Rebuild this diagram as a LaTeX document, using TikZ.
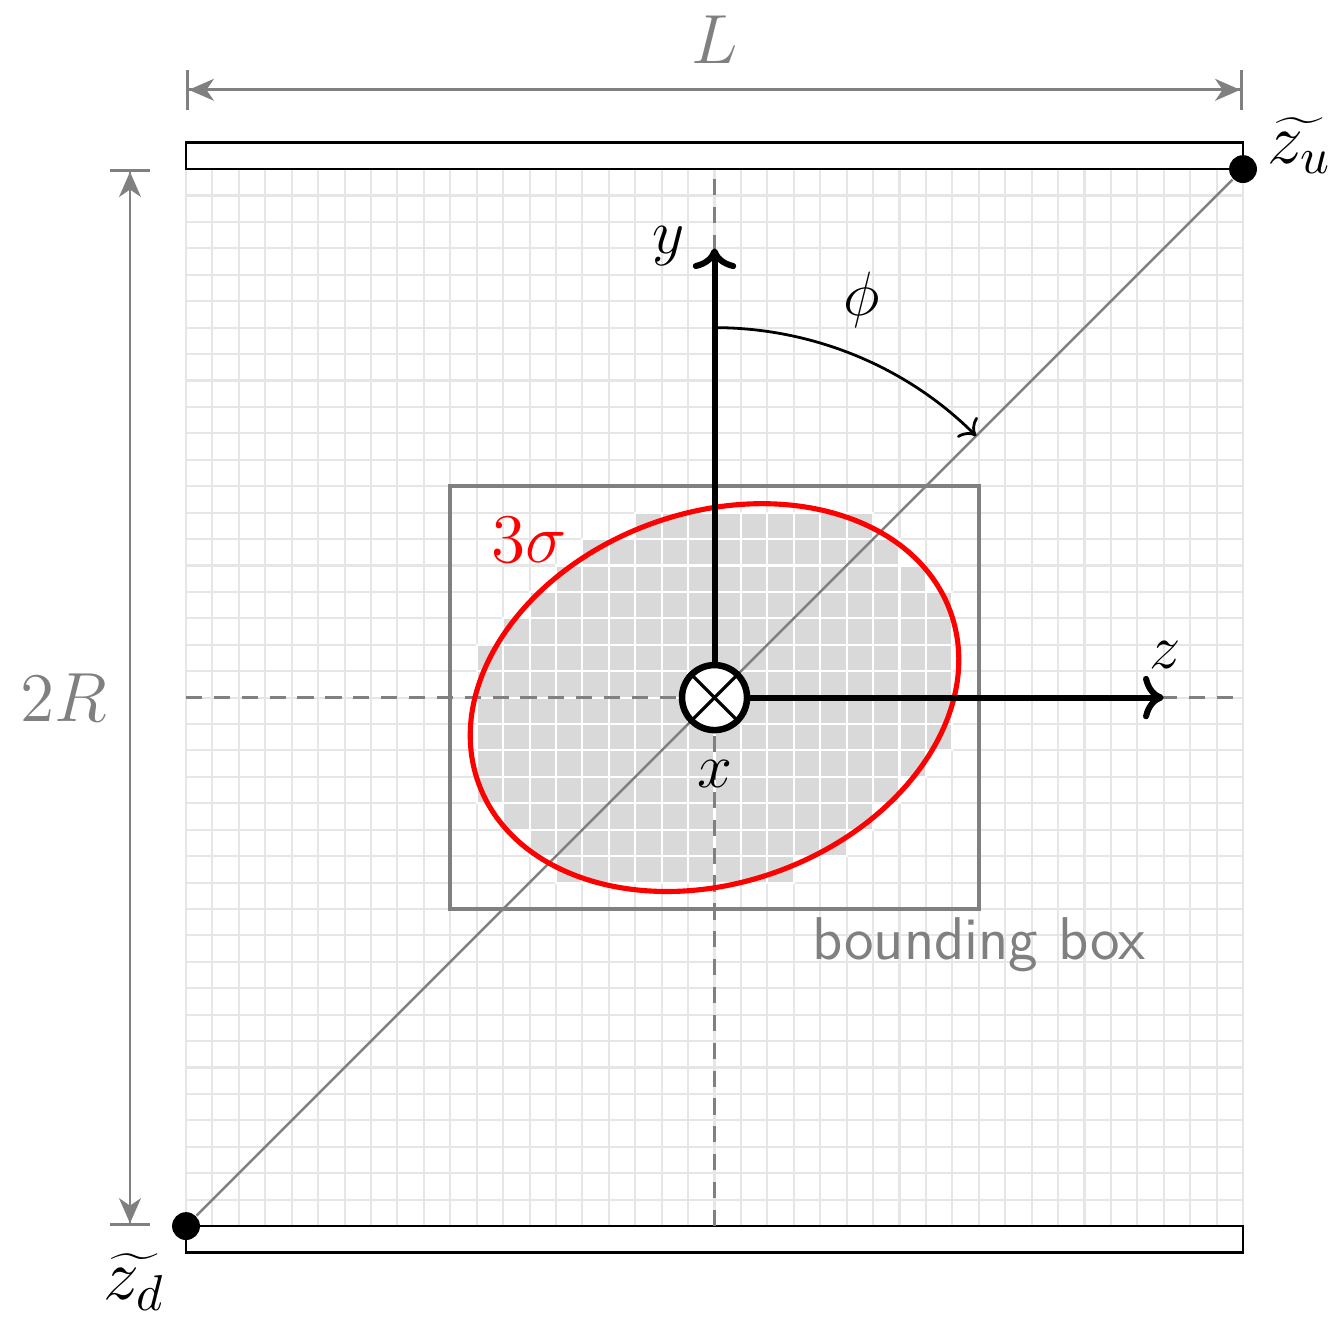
\documentclass[tikz,border=0pt]{standalone}
\usepackage{fix-cm}
\usetikzlibrary{positioning, arrows.meta, calc}
\definecolor{gridline}{HTML}{E6E6E6}
\definecolor{cellfill}{HTML}{D9D9D9}
\definecolor{dimgray}{HTML}{808080}

\begin{document}
\begin{tikzpicture}[
  x=0.2cm, y=0.2cm,
  every node/.style={inner sep=0pt},
  bigmath/.style={font=\fontsize{15}{18}\selectfont},
  midmath/.style={font=\fontsize{13.5}{16}\selectfont},
  plate/.style={draw=black, line width=0.6pt, fill=white},
  cell/.style={fill=cellfill, draw=white, line width=0.45pt},
  guide/.style={draw=dimgray, line width=0.5pt, dash pattern=on 3.5pt off 2.5pt},
  dimline/.style={
    draw=dimgray, line width=0.6pt,
    {Bar[width=8.6pt]Stealth[length=5.4pt, width=4.7pt, inset=1.6pt]}-{Stealth[length=5.4pt, width=4.7pt, inset=1.6pt]Bar[width=8.6pt]}
  },
  axisline/.style={line width=1.3pt, -{To}},
  dot/.style={circle, fill=black, minimum size=6pt},
  bbox/.style={draw=dimgray, line width=0.9pt}
]
\useasboundingbox (-7.04,-3.56) rectangle (43.52,46.40);

% Grid and cells inside the ellipse
\draw[gridline, line width=0.45pt, step=1] (0,0) grid (40,40);
\foreach \i in {10,...,29}{
  \foreach \j in {12,...,27}{
    \pgfmathsetmacro\du{((\i+0.5-20)*cos(20)+(\j+0.5-20)*sin(20))/9.5}
    \pgfmathsetmacro\dv{(-(\i+0.5-20)*sin(20)+(\j+0.5-20)*cos(20))/7}
    \pgfmathtruncatemacro\inside{(\du*\du+\dv*\dv<1)}
    \ifnum\inside=1
      \filldraw[cell] (\i,\j) rectangle ++(1,1);
    \fi
  }
}

% Plates
\draw[plate] (0,40) rectangle (40,41);
\draw[plate] (0,-1) rectangle (40,0);

% Bounding box
\draw[bbox] (10,12) rectangle (30,28);
\node[font=\fontsize{13}{15}\selectfont\sffamily, text=dimgray, anchor=base] (bblbl) at (30,10.1) {bounding box};

% Guides
\coordinate (hleft) at (0,20);
\coordinate (hright) at (40,20);
\coordinate (vbot) at (20,0);
\coordinate (vtop) at (20,40);
\draw[guide] (hleft) -- (hright);
\draw[guide] (vbot) -- (vtop);

% Electrodes
\node[dot] (zd) at (0,0) {};
\node[dot] (zu) at (40,40) {};
\draw[dimgray, line width=0.5pt] (zd) -- (zu);
\node[font=\fontsize{15.5}{18}\selectfont, anchor=base west] (zulbl) at (40.9,40.23) {$\widetilde{z_u}$};
\node[font=\fontsize{15.5}{18}\selectfont, anchor=base west] (zdlbl) at (-3.14,-2.77) {$\widetilde{z_d}$};

% 3 sigma ellipse
\draw[red, line width=1.1pt, rotate around={20:(20,20)}] (20,20) ellipse [x radius=9.5, y radius=7];
\node[bigmath, text=red, anchor=base] (siglbl) at (13,25.1) {$3\sigma$};

% Axes
\node[circle, draw, fill=white, line width=1.4pt, minimum size=14pt] (origin) at (20,20) {};
\draw[line width=0.7pt] (origin.45) -- (origin.225) (origin.135) -- (origin.315);
\coordinate (ytip) at (20,37);
\coordinate (ztip) at (37,20);
\draw[axisline] (origin) -- (ytip);
\draw[axisline] (origin) -- (ztip);
\node[midmath] (xlbl) at (20,17.1) {$x$};
\node[midmath] (ylbl) at (18.26,37.1) {$y$};
\node[midmath] (zlbl) at (37.05,21.6) {$z$};

% Angle
\coordinate (arcstart) at (20,34);
\draw[line width=0.6pt, -{To}] (arcstart) arc [start angle=90, end angle=45, radius=14];
\node[midmath] (philbl) at (25.57,35.04) {$\phi$};

% Dimensions
\coordinate (lleft) at (0,43);
\coordinate (lright) at (40,43);
\draw[dimline] (lleft) -- (lright);
\node[bigmath, text=dimgray, anchor=base] (llbl) at (20,44) {$L$};
\coordinate (rbot) at (-2.12,0);
\coordinate (rtop) at (-2.12,40);
\draw[dimline] (rtop) -- (rbot);
\node[bigmath, text=dimgray, anchor=east] (rlbl) at (-2.95,20) {$2R$};

\end{tikzpicture}
\end{document}
